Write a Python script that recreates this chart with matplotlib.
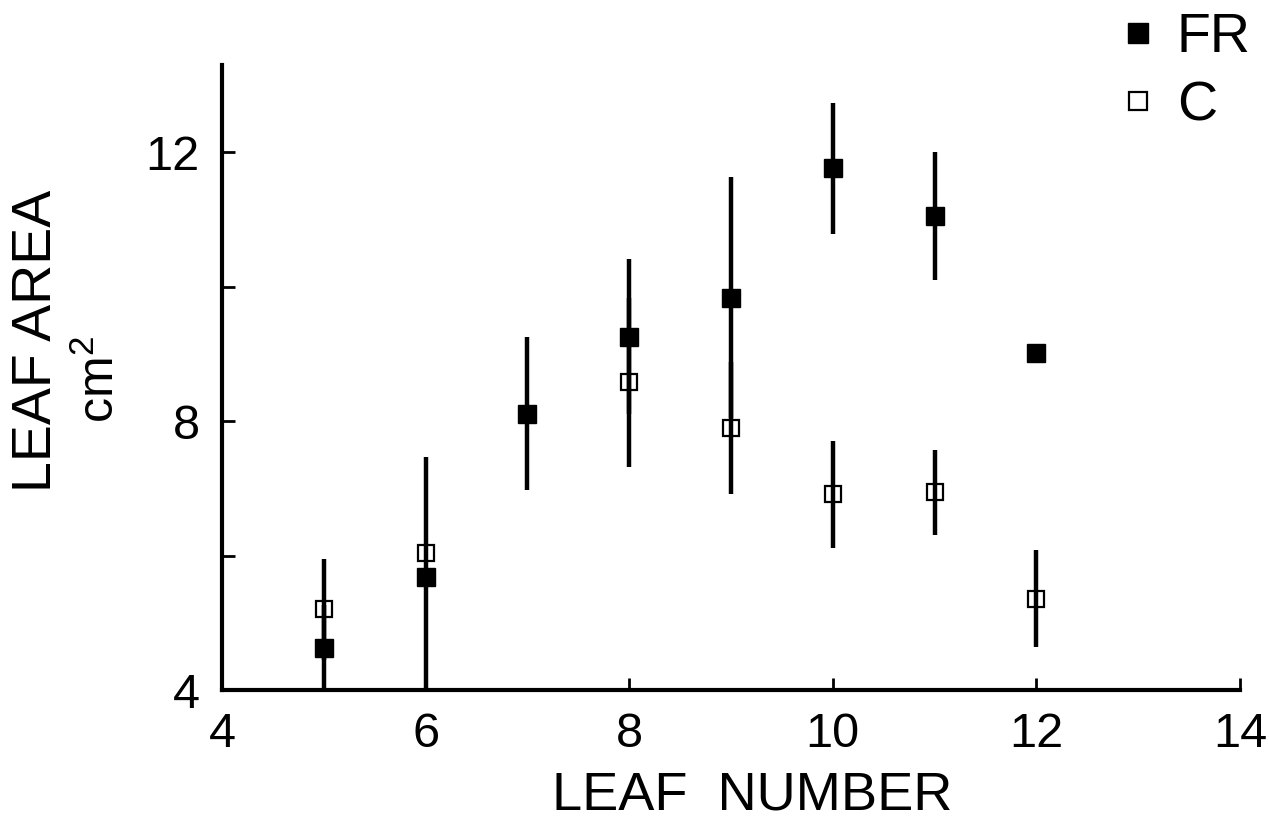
import matplotlib
matplotlib.use("Agg")
import matplotlib.pyplot as plt
from matplotlib.ticker import FixedLocator, FixedFormatter

plt.rcParams['font.family'] = ['Liberation Sans', 'DejaVu Sans']
plt.rcParams['mathtext.default'] = 'regular'

# ---- data ----
fr_x = [5, 6, 7, 8, 9, 10, 11, 12]
fr_y = [4.63, 5.68, 8.11, 9.26, 9.84, 11.76, 11.05, 9.02]
fr_err = [0.63, 1.78, 1.14, 1.16, 1.79, 0.97, 0.95, 0.0]

c_x = [5, 6, 8, 9, 10, 11, 12]
c_y = [5.20, 6.04, 8.58, 7.90, 6.91, 6.94, 5.36]
c_err = [0.75, 0.0, 1.26, 0.98, 0.80, 0.63, 0.72]

x_ticks = [4, 6, 8, 10, 12, 14]
x_ticklabels = ['4', '6', '8', '10', '12', '14']
y_ticks = [4, 6, 8, 10, 12]
y_ticklabels = ['4', '', '8', '', '12']

W, H = 1269, 822
fig = plt.figure(figsize=(W / 100, H / 100), dpi=100)
ax = fig.add_axes([222 / W, 1 - 690 / H, (1240 - 222) / W, (690 - 65) / H])

ax.errorbar(c_x, c_y, yerr=c_err, fmt='s', color='black', ecolor='black',
            elinewidth=3.2, capsize=0, markersize=12, mfc='none', mec='black',
            mew=1.6, label='C', zorder=3)
ax.errorbar(fr_x, fr_y, yerr=fr_err, fmt='s', color='black', ecolor='black',
            elinewidth=3.2, capsize=0, markersize=13, mfc='black', mec='black',
            label='FR', zorder=4)

ax.set_xlim(4, 14)
ax.set_ylim(4, 13.3)

for s in ['top', 'right']:
    ax.spines[s].set_visible(False)
for s in ['left', 'bottom']:
    ax.spines[s].set_linewidth(3.0)

ax.xaxis.set_major_locator(FixedLocator(x_ticks))
ax.xaxis.set_major_formatter(FixedFormatter(x_ticklabels))
ax.yaxis.set_major_locator(FixedLocator(y_ticks))
ax.yaxis.set_major_formatter(FixedFormatter(y_ticklabels))
ax.tick_params(axis='both', direction='in', length=9, width=2.0, labelsize=35)
ax.tick_params(axis='x', pad=16)
ax.tick_params(axis='y', pad=16)

ax.set_xlabel('LEAF  NUMBER', fontsize=39)
ax.xaxis.set_label_coords((752 - 222) / (1240 - 222), -0.128)

fig.text(37 / W, 1 - 341 / H, 'LEAF AREA', rotation=90, fontsize=40,
         ha='center', va='center')
fig.text(100 / W, 1 - 380 / H, 'cm$^{2}$', rotation=90, fontsize=36,
         ha='center', va='center')

handles, labels = ax.get_legend_handles_labels()
order = [labels.index('FR'), labels.index('C')]
leg = ax.legend([handles[i][0] for i in order], [labels[i] for i in order],
                loc='upper left', bbox_to_anchor=(1124 / W, 1 - 12 / H),
                bbox_transform=fig.transFigure, frameon=False, fontsize=40,
                handlelength=0.5, handletextpad=0.45, labelspacing=0.3,
                borderpad=0, borderaxespad=0)
leg.legend_handles[0].set_markersize(14)
leg.legend_handles[1].set_markersize(13)

fig.savefig('out.png', dpi=100)
